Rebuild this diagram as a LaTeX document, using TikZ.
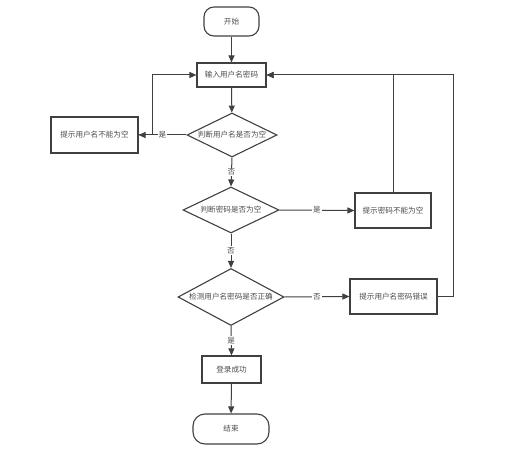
\documentclass[tikz,border=0pt]{standalone}
\usepackage{fontspec}
\newfontfamily\cjk{Noto Sans CJK SC}
\usetikzlibrary{shapes.geometric,arrows.meta,positioning}
\begin{document}
\begin{tikzpicture}[x=1pt,y=-1pt,
  every node/.style={font=\cjk\fontsize{7.6}{9}\selectfont, text=black!70},
  base/.style={draw=black!75, line width=1.1pt, inner sep=0pt},
  term/.style={base, rounded corners=10pt},
  proc/.style={base, rectangle},
  dec/.style={base, diamond},
  arr/.style={draw=black!75, line width=1pt, -{Triangle[length=7pt,width=6pt]}},
  lbl/.style={fill=white, inner sep=1pt}]
\useasboundingbox (0,0) rectangle (509,449);
\node[term, minimum width=55pt, minimum height=29pt] (start) at (231.5,21.5) {开始};
\node[proc, minimum width=69pt, minimum height=24pt] (input) at (231.5,75) {输入用户名密码};
\node[dec, shape aspect=2.05, minimum width=90pt, minimum height=44pt] (d1) at (232,135) {判断用户名是否为空};
\node[proc, minimum width=87pt, minimum height=36pt] (ubox) at (94.5,135) {提示用户名不能为空};
\node[dec, shape aspect=2.1, minimum width=96pt, minimum height=46pt] (d2) at (231,210) {判断密码是否为空};
\node[proc, minimum width=76pt, minimum height=35pt] (pbox) at (393,210.5) {提示密码不能为空};
\node[dec, shape aspect=1.86, minimum width=106pt, minimum height=57pt] (d3) at (231,297) {检测用户名密码是否正确};
\node[proc, minimum width=87pt, minimum height=35pt] (ebox) at (393.5,296.5) {提示用户名密码错误};
\node[proc, minimum width=59pt, minimum height=27pt] (ok) at (231.5,369.5) {登录成功};
\node[term, minimum width=76pt, minimum height=30pt, rounded corners=12pt] (end) at (231,429) {结束};
\coordinate (rc) at (453,296.5);

\draw[arr] (start) -- (input);
\draw[arr] (input) -- (d1);
\draw[arr] (d1.west) -- node[lbl, pos=0.5]{是} (ubox.east);
\draw[arr] (ubox.east) -- ++(14,0) |- (input.west);
\draw[arr] (d1.south) -- node[lbl]{否} (d2.north);
\draw[arr] (d2.east) -- node[lbl]{是} (pbox.west);
\draw[arr] (pbox.north) |- (input.east);
\draw[arr] (d2.south) -- node[lbl]{否} (d3.north);
\draw[arr] (d3.east) -- node[lbl]{否} (ebox.west);
\draw[arr] (ebox.east) -- (rc) |- (input.east);
\draw[arr] (d3.south) -- node[lbl]{是} (ok.north);
\draw[arr] (ok) -- (end);
\end{tikzpicture}
\end{document}
